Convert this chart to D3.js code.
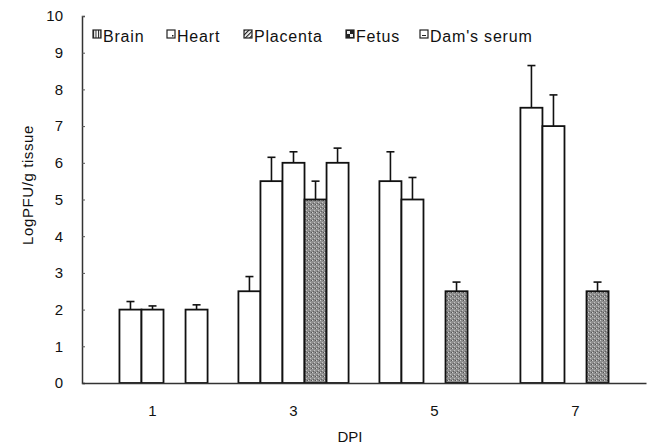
<html>
<head>
<script src="https://d3js.org/d3.v7.min.js"></script>
<style>
body { margin: 0; background: #fff; }
text { font-family: "Liberation Sans", Arial, sans-serif; fill: #111; }
.bar { stroke: #111; stroke-width: 1.8px; }
.err { stroke: #111; stroke-width: 1.6px; fill: none; }
.axis path { stroke: #333; stroke-width: 1.5px; }
.axis line { stroke: #555; }
</style>
</head>
<body>
<svg id="chart" width="651" height="446"></svg>
<script>
// days post infection, one group each
var days = ["1", "3", "5", "7"];
var series = ["Brain", "Heart", "Placenta", "Fetus", "Dam's serum"];
// mean titres (null = no bar)
var brain    = [null, 2.5, 5.5, 7.5];
var heart    = [2.0, 5.5, 5.0, 7.0];
var placenta = [2.0, 6.0, null, null];
var fetus    = [null, 5.0, 2.5, 2.5];
var serum    = [2.0, 6.0, null, null];
// error bar length (upper only)
var brainErr    = [null, 0.4, 0.8, 1.15];
var heartErr    = [0.22, 0.65, 0.6, 0.85];
var placentaErr = [0.1, 0.3, null, null];
var fetusErr    = [null, 0.5, 0.25, 0.25];
var serumErr    = [0.13, 0.4, null, null];
var yTicks = [0, 1, 2, 3, 4, 5, 6, 7, 8, 9, 10];

var values = [brain, heart, placenta, fetus, serum];
var errs = [brainErr, heartErr, placentaErr, fetusErr, serumErr];

var rows = [];
series.forEach(function(s, i) {
    days.forEach(function(d, j) {
        if (values[i][j] != null) rows.push({ day: d, key: s, v: values[i][j], e: errs[i][j] });
    });
});

var chart = d3.select('#chart');
var defs = chart.append('defs');

// stippled grey for fetus bars
var stip = defs.append('pattern').attr('id', 'stip')
    .attr('width', 4).attr('height', 4).attr('patternUnits', 'userSpaceOnUse');
stip.append('rect').attr('width', 4).attr('height', 4).attr('fill', '#8e8e8e');
stip.append('rect').attr('x', 0).attr('y', 0).attr('width', 1).attr('height', 1).attr('fill', '#d0d0d0');
stip.append('rect').attr('x', 2).attr('y', 2).attr('width', 1).attr('height', 1).attr('fill', '#c4c4c4');
stip.append('rect').attr('x', 3).attr('y', 0).attr('width', 1).attr('height', 1).attr('fill', '#555');
stip.append('rect').attr('x', 1).attr('y', 3).attr('width', 1).attr('height', 1).attr('fill', '#606060');

// legend swatch patterns
var vlines = defs.append('pattern').attr('id', 'vlines')
    .attr('width', 2.5).attr('height', 4).attr('patternUnits', 'userSpaceOnUse');
vlines.append('rect').attr('width', 2.5).attr('height', 4).attr('fill', '#fff');
vlines.append('rect').attr('width', 1).attr('height', 4).attr('fill', '#222');
var diag = defs.append('pattern').attr('id', 'diag')
    .attr('width', 3).attr('height', 3).attr('patternUnits', 'userSpaceOnUse')
    .attr('patternTransform', 'rotate(45)');
diag.append('rect').attr('width', 3).attr('height', 3).attr('fill', '#fff');
diag.append('rect').attr('width', 1.2).attr('height', 3).attr('fill', '#222');
var check = defs.append('pattern').attr('id', 'check')
    .attr('width', 8).attr('height', 8).attr('patternUnits', 'userSpaceOnUse');
check.append('rect').attr('width', 8).attr('height', 8).attr('fill', '#222');
check.append('rect').attr('x', 1).attr('y', 1).attr('width', 3).attr('height', 3).attr('fill', '#eee');
check.append('rect').attr('x', 4).attr('y', 4).attr('width', 3).attr('height', 3).attr('fill', '#eee');

var fills = { "Brain": "#fff", "Heart": "#fff", "Placenta": "#fff", "Fetus": "url(#stip)", "Dam's serum": "#fff" };
var swatch = { "Brain": "url(#vlines)", "Heart": "#fff", "Placenta": "url(#diag)", "Fetus": "url(#check)", "Dam's serum": "#fff" };

var x0 = d3.scaleBand().domain(days).range([82, 646]);
var x1 = d3.scaleBand().domain(series).range([0, x0.bandwidth()]).paddingOuter(0.7);
var y = d3.scaleLinear().domain([0, 10]).range([383, 16]);

// bars
chart.append('g').selectAll('rect').data(rows).enter().append('rect')
    .attr('class', 'bar')
    .attr('x', function(d) { return x0(d.day) + x1(d.key); })
    .attr('y', function(d) { return y(d.v); })
    .attr('width', x1.bandwidth())
    .attr('height', function(d) { return y(0) - y(d.v); })
    .attr('fill', function(d) { return fills[d.key]; });

// error bars, upper side only
var eg = chart.append('g').selectAll('g').data(rows).enter().append('g').attr('class', 'err');
eg.append('line')
    .attr('x1', function(d) { return x0(d.day) + x1(d.key) + x1.bandwidth() / 2; })
    .attr('x2', function(d) { return x0(d.day) + x1(d.key) + x1.bandwidth() / 2; })
    .attr('y1', function(d) { return y(d.v); })
    .attr('y2', function(d) { return y(d.v + d.e); });
eg.append('line')
    .attr('x1', function(d) { return x0(d.day) + x1(d.key) + x1.bandwidth() / 2 - 4; })
    .attr('x2', function(d) { return x0(d.day) + x1(d.key) + x1.bandwidth() / 2 + 4; })
    .attr('y1', function(d) { return y(d.v + d.e); })
    .attr('y2', function(d) { return y(d.v + d.e); });

// axes
var yAxis = d3.axisLeft(y).tickValues(yTicks).tickSize(-3).tickPadding(19);
chart.append('g').attr('class', 'axis').attr('transform', 'translate(82,0)').call(yAxis)
    .call(function(g) { g.selectAll('text').style('font-size', '15px'); });

var xAxis = d3.axisBottom(x0).tickSize(0).tickPadding(22);
chart.append('g').attr('class', 'axis').attr('transform', 'translate(0,383)').call(xAxis)
    .call(function(g) { g.selectAll('text').style('font-size', '15px'); });

chart.append('text').attr('x', 350).attr('y', 442).attr('text-anchor', 'middle')
    .style('font-size', '15px').text('DPI');
chart.append('text').attr('transform', 'translate(33,185) rotate(-90)').attr('text-anchor', 'middle')
    .style('font-size', '15px').style('letter-spacing', '0.6px').text('LogPFU/g tissue');

// legend
var legendX = [93, 167, 244, 346, 420];
series.forEach(function(s, i) {
    var g = chart.append('g').attr('transform', 'translate(' + legendX[i] + ',30)');
    g.append('rect').attr('x', 0).attr('y', 0).attr('width', 8).attr('height', 8)
        .attr('fill', swatch[s]).attr('stroke', '#222').attr('stroke-width', 1.2);
    if (s == "Heart") g.append('rect').attr('x', 5).attr('y', 5).attr('width', 1.5).attr('height', 1.5).attr('fill', '#222');
    if (s == "Dam's serum") g.append('line').attr('x1', 2).attr('x2', 6).attr('y1', 5.5).attr('y2', 5.5).attr('stroke', '#222');
    g.append('text').attr('x', 10).attr('y', 12).style('font-size', '16px').style('letter-spacing', '0.8px').text(s);
});
</script>
</body>
</html>
